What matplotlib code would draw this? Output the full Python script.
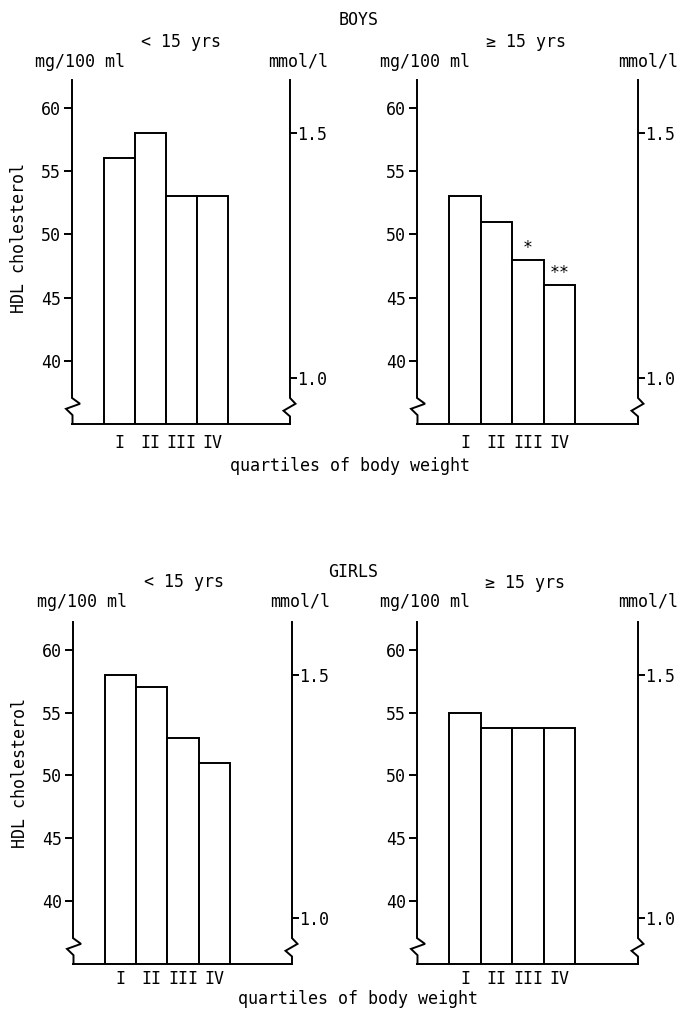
import matplotlib
matplotlib.use("Agg")
import matplotlib.pyplot as plt
import matplotlib.transforms as mtransforms

plt.rcParams['font.family'] = ['DejaVu Sans Mono', 'DejaVu Sans']

categories = ['I', 'II', 'III', 'IV']
boys_young = [56, 58, 53, 53]
boys_old = [53, 51, 48, 46]
girls_young = [58, 57, 53, 51]
girls_old = [55, 53.8, 53.8, 53.8]
boys_old_sig = ['', '', '*', '**']
left_ticks = [40, 45, 50, 55, 60]
right_ticks = [1.0, 1.5]
MG_PER_MMOL = 38.67

W, H = 681, 1013
fig = plt.figure(figsize=(W / 100, H / 100), dpi=100)

FS = 12
LW = 1.4


def rect(l, r, t, b):
    return [l / W, 1 - b / H, (r - l) / W, (b - t) / H]


def ftext(x, y, s, **kw):
    kw.setdefault('fontsize', FS)
    fig.text(x / W, 1 - y / H, s, **kw)


def panel(box, values, sig=None, xpad=7):
    ax = fig.add_axes(rect(*box))
    ymin, ymax = 35, 62.2
    x = list(range(len(categories)))
    ax.bar(x, values, width=1.0, bottom=0, color='white', edgecolor='black',
           linewidth=LW, zorder=2)
    ax.set_xlim(-1.53, 5.5)
    ax.set_ylim(ymin, ymax)
    for s in ['left', 'right', 'top']:
        ax.spines[s].set_visible(False)
    ax.spines['bottom'].set_linewidth(LW)
    ax.set_xticks(x)
    ax.set_xticklabels(categories, fontsize=FS)
    ax.tick_params(axis='x', length=0, pad=xpad)
    ax.set_yticks(left_ticks)
    ax.set_yticklabels([str(t) for t in left_ticks], fontsize=FS)
    ax.tick_params(axis='y', direction='out', length=6, width=LW, pad=2)

    axw = (box[1] - box[0])
    px = 1.0 / axw
    trans = mtransforms.blended_transform_factory(ax.transAxes, ax.transData)
    # left spine with break mark
    xs = [0, 0, 8 * px, -6 * px, 0.5 * px, 0.5 * px]
    ys = [ymax, 37.06, 36.6, 36.2, 35.7, ymin]
    ax.plot(xs, ys, color='black', lw=LW, transform=trans, clip_on=False,
            solid_joinstyle='miter', zorder=3)
    # right spine with break mark
    xs = [1, 1, 1 + 5.5 * px, 1 - 6.5 * px, 1, 1]
    ys = [ymax, 37.06, 36.6, 36.05, 35.6, ymin]
    ax.plot(xs, ys, color='black', lw=LW, transform=trans, clip_on=False,
            solid_joinstyle='miter', zorder=3)

    ax2 = ax.twinx()
    ax2.set_ylim(ymin / MG_PER_MMOL, ymax / MG_PER_MMOL)
    for s in ax2.spines.values():
        s.set_visible(False)
    ax2.set_yticks(right_ticks)
    ax2.set_yticklabels([f"{t:.1f}" for t in right_ticks], fontsize=FS)
    ax2.tick_params(axis='y', direction='out', length=5, width=LW, pad=0)

    if sig:
        for xi, v, s in zip(x, values, sig):
            if s:
                ax.annotate(s, (xi, v), xytext=(0, 2), textcoords='offset points',
                            ha='center', va='bottom', fontsize=FS)
    return ax


panel((72, 290, 80, 424), boys_young)
panel((417, 638, 80, 424), boys_old, boys_old_sig)
panel((73, 292, 622, 964), girls_young, xpad=4)
panel((417, 638, 622, 964), girls_old, xpad=4)

# Top block texts
ftext(359, 20, 'BOYS', ha='center', va='center')
ftext(181, 42, '< 15 yrs', ha='center', va='center')
ftext(526, 42, '\u2265 15 yrs', ha='center', va='center')
ftext(35, 62, 'mg/100 ml', ha='left', va='center')
ftext(268, 62, 'mmol/l', ha='left', va='center')
ftext(380, 62, 'mg/100 ml', ha='left', va='center')
ftext(618, 62, 'mmol/l', ha='left', va='center')
ftext(19, 238, 'HDL cholesterol', ha='center', va='center', rotation=90)
ftext(350, 466, 'quartiles of body weight', ha='center', va='center')

# Bottom block texts
ftext(353, 572, 'GIRLS', ha='center', va='center')
ftext(184, 582, '< 15 yrs', ha='center', va='center')
ftext(525, 583, '\u2265 15 yrs', ha='center', va='center')
ftext(37, 602, 'mg/100 ml', ha='left', va='center')
ftext(270, 602, 'mmol/l', ha='left', va='center')
ftext(380, 602, 'mg/100 ml', ha='left', va='center')
ftext(618, 602, 'mmol/l', ha='left', va='center')
ftext(20, 773, 'HDL cholesterol', ha='center', va='center', rotation=90)
ftext(358, 999, 'quartiles of body weight', ha='center', va='center')

fig.savefig('out.png', dpi=100, facecolor='white')
